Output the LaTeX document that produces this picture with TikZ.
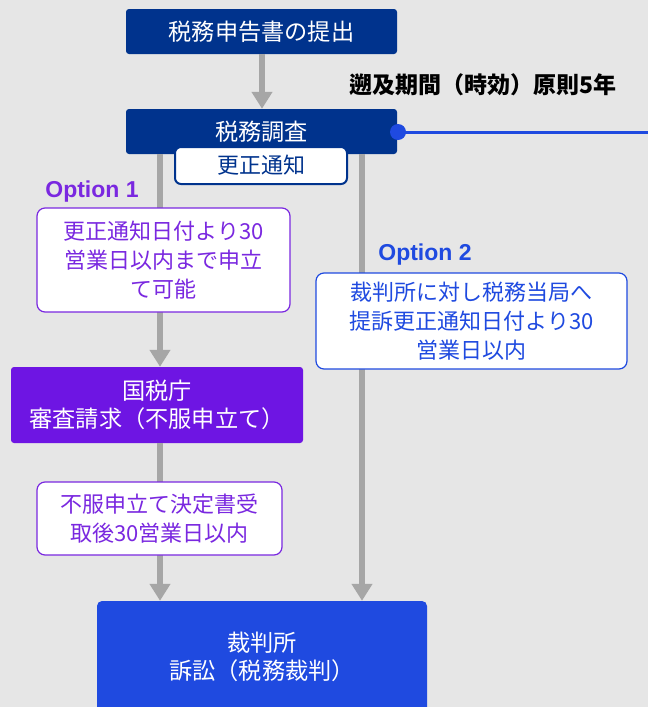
\documentclass[tikz,border=0pt]{standalone}
\usepackage{fontspec}
\setmainfont{Noto Sans CJK JP}
\newfontfamily\latinbold{Liberation Sans}
\usetikzlibrary{arrows.meta}
\definecolor{bgc}{HTML}{E6E6E6}
\definecolor{navy}{HTML}{00338D}
\definecolor{purp}{HTML}{6E15E3}
\definecolor{purpt}{HTML}{7A28E0}
\definecolor{blu}{HTML}{1F4AE0}
\definecolor{arr}{HTML}{A6A6A6}
\tikzset{
  boxtxt/.style={font=\fontsize{22}{29}\selectfont, align=center, inner sep=0pt},
  bigtxt/.style={font=\fontsize{23.2}{28}\selectfont, align=center, inner sep=0pt},
  navybox/.style={bigtxt, fill=navy, text=white, rounded corners=3pt, minimum width=271pt, minimum height=45pt},
  notebox/.style={boxtxt, fill=white, draw=navy, line width=2pt, text=navy, rounded corners=6pt},
  purpnote/.style={boxtxt, fill=white, draw=purpt, line width=1.2pt, text=purpt, rounded corners=8pt},
  bluenote/.style={boxtxt, fill=white, draw=blu, line width=1.2pt, text=blu, rounded corners=8pt},
  flow/.style={draw=arr, line width=6pt, -{Triangle[width=20pt,length=17pt]}},
  optlabel/.style={font=\latinbold\bfseries\fontsize{23}{26}\selectfont, inner sep=0pt},
}
\begin{document}
\begin{tikzpicture}[x=1pt,y=-1pt]
\useasboundingbox (0,0) rectangle (648,707);
\fill[bgc] (0,0) rectangle (648,707);
\coordinate (L) at (160,0);
\coordinate (R) at (362,0);
\coordinate (M) at (262,0);
\coordinate (edge) at (648,132);
% nodes
\node[navybox] (b1) at (261.5,31.5) {税務申告書の提出};
\node[navybox] (b2) at (261.5,131.5) {税務調査};
\node[bigtxt, fill=purp, text=white, rounded corners=3pt, minimum width=292pt, minimum height=76pt] (nta) at (157,405) {国税庁\\審査請求（不服申立て）};
\node[bigtxt, fill=blu, text=white, rounded corners=5pt, minimum width=330pt, minimum height=112pt] (court) at (262,657) {裁判所\\訴訟（税務裁判）};
% flows
\draw[flow] (b1.south -| M) -- (b2.north -| M);
\draw[flow] (b2.south -| L) -- (nta.north -| L);
\draw[flow] (b2.south -| R) -- (court.north -| R);
\draw[flow] (nta.south -| L) -- (court.north -| L);
% notes
\node[notebox, minimum width=172pt, minimum height=37pt] (notice) at (261,165.5) {更正通知};
\node[purpnote, minimum width=253pt, minimum height=104pt] (o1box) at (163.5,260) {更正通知日付より30\\営業日以内まで申立\\て可能};
\node[purpnote, minimum width=245pt, minimum height=73pt] (o1b) at (159.5,518.5) {不服申立て決定書受\\取後30営業日以内};
\node[bluenote, minimum width=311pt, minimum height=96pt] (o2box) at (471.5,321) {裁判所に対し税務当局へ\\提訴更正通知日付より30\\営業日以内};
% labels
\node[optlabel, text=purpt] (o1) at (92,192) {Option 1};
\node[optlabel, text=blu] (o2) at (425,255) {Option 2};
\node[font=\bfseries\fontsize{23}{26}\selectfont, inner sep=0pt] (title) at (483,85) {遡及期間（時効）原則5年};
% statute line
\node[circle, fill=blu, minimum size=16pt, inner sep=0pt] (dot) at (398,132) {};
\draw[blu, line width=3pt] (dot.center) -- (edge);
\end{tikzpicture}
\end{document}
